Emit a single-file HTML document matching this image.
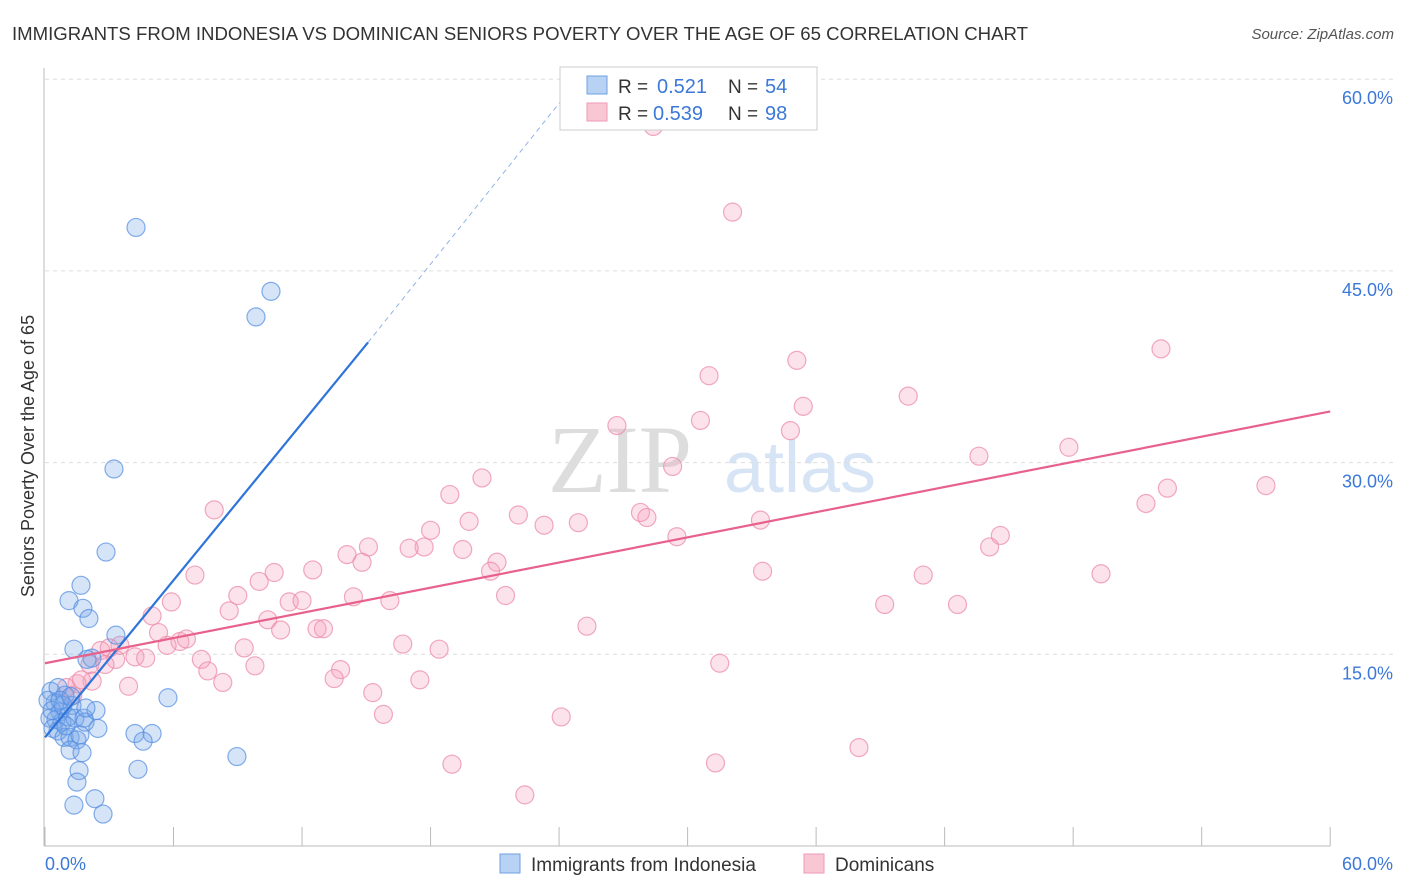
<!DOCTYPE html>
<html><head><meta charset="utf-8"><style>
body{margin:0;background:#fff;font-family:"Liberation Sans",sans-serif}
svg{display:block}
</style></head><body>
<svg id="chart" width="1406" height="892">
<text x="12" y="40" font-size="18.6" fill="#333">IMMIGRANTS FROM INDONESIA VS DOMINICAN SENIORS POVERTY OVER THE AGE OF 65 CORRELATION CHART</text>
<text x="1394" y="39" font-size="15" fill="#555" font-style="italic" text-anchor="end">Source: ZipAtlas.com</text>
<text x="620" y="492" font-size="96" fill="#ddd" font-family="Liberation Serif" text-anchor="middle">ZIP</text>
<text x="800" y="492" font-size="72" fill="#d6e4f5" text-anchor="middle">atlas</text>
<g id="grid"></g><g id="axes"></g><g id="pts"></g><g id="lines"></g>
<text transform="translate(34,456) rotate(-90)" font-size="18" fill="#333" text-anchor="middle">Seniors Poverty Over the Age of 65</text>
<g>
<rect x="560" y="67" width="257" height="63" fill="#fff" stroke="#ccc"/>
<rect x="587" y="76" width="20" height="18" fill="#b8d2f3" stroke="#6f9fe0"/>
<rect x="587" y="103" width="20" height="18" fill="#f9c6d4" stroke="#ef9ab4"/>
<text x="618" y="93" font-size="19" fill="#333">R =</text>
<text x="657" y="93" font-size="20" fill="#3b78d8">0.521</text>
<text x="728" y="93" font-size="19" fill="#333">N =</text>
<text x="765" y="93" font-size="20" fill="#3b78d8">54</text>
<text x="618" y="120" font-size="19" fill="#333">R =</text>
<text x="653" y="120" font-size="20" fill="#3b78d8">0.539</text>
<text x="728" y="120" font-size="19" fill="#333">N =</text>
<text x="765" y="120" font-size="20" fill="#3b78d8">98</text>
</g>
<g>
<rect x="500" y="854" width="20" height="19" fill="#b8d2f3" stroke="#6f9fe0"/>
<text x="531" y="871" font-size="19" fill="#333">Immigrants from Indonesia</text>
<rect x="804" y="854" width="20" height="19" fill="#f9c6d4" stroke="#ef9ab4"/>
<text x="835" y="871" font-size="19" fill="#333">Dominicans</text>
</g>
</svg>
<script>
const blueX=[4.25,10.55,9.85,3.22,2.85,1.68,1.12,1.77,2.05,3.31,1.35,2.19,1.96,5.74,0.28,0.61,0.93,1.26,0.47,0.70,0.23,0.51,0.79,1.07,1.40,1.82,1.87,2.38,2.47,0.37,0.61,0.89,1.17,1.49,1.63,4.20,5.0,4.58,1.17,1.73,1.59,1.49,1.35,2.33,2.71,4.34,8.96,0.14,0.33,0.84,0.98,0.70,1.21,1.91];
const blueY=[48.4,43.4,41.4,29.5,23.0,20.4,19.2,18.6,17.8,16.5,15.4,14.7,14.6,11.6,12.1,12.4,11.8,11.0,11.2,10.5,10.0,9.9,9.7,10.1,10.0,10.0,9.7,10.6,9.2,9.2,9.0,8.5,8.5,8.3,8.7,8.8,8.8,8.2,7.5,7.3,5.9,5.0,3.2,3.7,2.5,6.0,7.0,11.4,10.6,11.0,9.4,11.4,11.7,10.8];
const pinkX=[28.4,32.1,52.1,35.1,31.0,40.3,35.4,30.6,26.7,34.8,47.8,29.3,43.6,20.4,18.9,52.4,57.0,51.4,27.8,22.1,19.8,28.1,33.4,23.3,24.9,18.0,7.9,29.5,44.6,15.1,17.7,17.0,19.5,14.1,14.8,21.1,20.8,44.1,33.5,49.3,41.0,7.0,10.7,12.5,10.0,9.0,14.4,21.5,16.1,39.2,42.6,5.9,11.4,12.0,8.6,5.0,10.4,11.0,12.7,13.0,25.3,5.3,6.3,6.6,5.7,3.5,16.7,18.4,9.3,2.6,3.0,4.2,4.7,7.3,7.6,9.8,31.5,3.3,2.1,13.8,13.5,8.3,17.5,3.9,2.2,1.5,1.3,15.3,15.8,24.1,38.0,19.0,31.3,22.4,1.7,1.0,2.8];
const pinkY=[56.3,49.6,38.9,38.0,36.8,35.2,34.4,33.3,32.9,32.5,31.2,29.7,30.5,28.8,27.5,28.0,28.2,26.8,26.1,25.9,25.4,25.7,25.5,25.1,25.3,24.7,26.3,24.2,24.3,23.4,23.4,23.3,23.2,22.8,22.2,22.2,21.5,23.4,21.5,21.3,21.2,21.2,21.4,21.6,20.7,19.6,19.5,19.6,19.2,18.9,18.9,19.1,19.1,19.2,18.4,18.0,17.7,16.9,17.0,17.0,17.2,16.7,16.0,16.2,15.7,15.7,15.8,15.4,15.5,15.3,15.5,14.8,14.7,14.6,13.7,14.1,14.3,14.6,14.2,13.8,13.1,12.8,13.0,12.5,12.9,12.7,11.8,12.0,10.3,10.1,7.7,6.4,6.5,4.0,13.0,12.4,14.2];
const blueFit=[[0,8.5],[15.08,39.4]];
const blueDash=[[15.08,39.4],[24.9,60]];
const pinkFit=[[0,14.3],[60,34.0]];
const yTicks=[15,30,45,60];
const xTickLabels=["0.0%","60.0%"];
const NS="http://www.w3.org/2000/svg";
const X=v=>45+v*21.42, Y=v=>846-v*12.78;
function mk(t,a,p){const e=document.createElementNS(NS,t);for(const k in a)e.setAttribute(k,a[k]);p.appendChild(e);return e;}
const grid=document.getElementById('grid'),axes=document.getElementById('axes'),pts=document.getElementById('pts'),lines=document.getElementById('lines');
yTicks.forEach(v=>{
 const l=mk('line',{x1:45,x2:1394,y1:Y(v),y2:Y(v),stroke:'#ddd','stroke-dasharray':'4,4'},grid);
 
 
 const t=mk('text',{x:1393,y:Y(v)+25,'font-size':18,fill:'#3b78d8','text-anchor':'end'},axes);
 t.textContent=v.toFixed(1)+'%';
 
 
});
mk('line',{x1:44,x2:44,y1:68,y2:846,stroke:'#bbb'},axes);
mk('line',{x1:44,x2:1330,y1:846,y2:846,stroke:'#bbb'},axes);
for(let i=0;i<=10;i++){mk('line',{x1:X(i*6),x2:X(i*6),y1:827,y2:846,stroke:'#bbb'},axes);}
const t0=mk('text',{x:45,y:870,'font-size':18,fill:'#3b78d8'},axes);t0.textContent=xTickLabels[0];


const t1=mk('text',{x:1393,y:870,'font-size':18,fill:'#3b78d8','text-anchor':'end'},axes);t1.textContent=xTickLabels[1];


pinkX.forEach((v,i)=>{const c=mk('circle',{cx:X(v),cy:Y(pinkY[i]),r:9,fill:'rgba(244,160,188,0.3)',stroke:'rgba(236,140,170,0.75)','stroke-width':1.2},pts);
 
 });
blueX.forEach((v,i)=>{const c=mk('circle',{cx:X(v),cy:Y(blueY[i]),r:9,fill:'rgba(120,165,232,0.3)',stroke:'rgba(80,140,225,0.7)','stroke-width':1.2},pts);
 
 });
const bl=mk('line',{x1:X(blueFit[0][0]),y1:Y(blueFit[0][1]),x2:X(blueFit[1][0]),y2:Y(blueFit[1][1]),stroke:'#2f74d8','stroke-width':2.2},lines);


const bd=mk('line',{x1:X(blueDash[0][0]),y1:Y(blueDash[0][1]),x2:X(blueDash[1][0]),y2:Y(blueDash[1][1]),stroke:'#8fb4e8','stroke-width':1,'stroke-dasharray':'5,4'},lines);


const pl=mk('line',{x1:X(pinkFit[0][0]),y1:Y(pinkFit[0][1]),x2:X(pinkFit[1][0]),y2:Y(pinkFit[1][1]),stroke:'#e8618c','stroke-width':2.2},lines);


</script>
</body></html>
